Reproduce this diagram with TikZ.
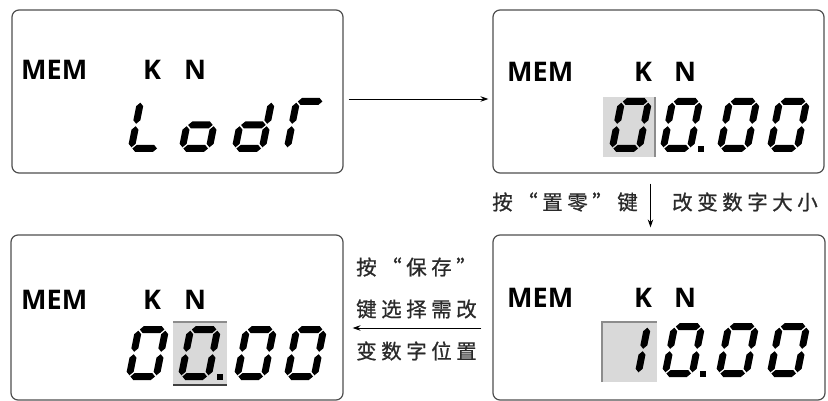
\documentclass[tikz,border=0pt]{standalone}
\usepackage{fontspec}
\setmainfont{Liberation Sans}
\newfontfamily\lcdfont{Open Sans}
\newfontfamily\cjk{Noto Sans CJK SC}[LetterSpace=22,FakeBold=0.8]
\usetikzlibrary{arrows.meta}
\definecolor{boxgray}{HTML}{4E4E4E}
\definecolor{shadegray}{HTML}{D9D9D9}
\definecolor{edgegray}{HTML}{8C8C8C}
\definecolor{cngray}{HTML}{2A2A2A}
\tikzset{
  lcdbox/.style={draw=boxgray, line width=1.2pt, rounded corners=7pt, minimum width=331pt, minimum height=163pt, inner sep=0pt},
  lbl/.style={font=\lcdfont\bfseries\fontsize{27}{27}\selectfont, inner sep=0pt},
  cn/.style={font=\cjk\fontsize{20.5}{21}\selectfont, inner sep=0pt, text=cngray},
  arr/.style={-{Stealth[length=8pt,width=5.5pt]}, line width=0.9pt, draw=black},
  segfill/.style={fill=black},
  lcdshade/.style={fill=shadegray},
}
\newcommand\lcdsega{\fill[segfill] (4.7,50.5)--(8.2,54)--(25.8,54)--(29.3,50.5)--(25.8,47)--(8.2,47)--cycle;}
\newcommand\lcdsegg{\fill[segfill] (4.7,27)--(8.2,30.5)--(25.8,30.5)--(29.3,27)--(25.8,23.5)--(8.2,23.5)--cycle;}
\newcommand\lcdsegd{\fill[segfill] (4.7,3.5)--(8.2,7)--(25.8,7)--(29.3,3.5)--(25.8,0)--(8.2,0)--cycle;}
\newcommand\lcdsegf{\fill[segfill] (3.5,28.2)--(7,31.7)--(7,45.8)--(3.5,49.3)--(0,45.8)--(0,31.7)--cycle;}
\newcommand\lcdsege{\fill[segfill] (3.5,4.7)--(7,8.2)--(7,22.3)--(3.5,25.8)--(0,22.3)--(0,8.2)--cycle;}
\newcommand\lcdsegb{\fill[segfill] (30.5,28.2)--(34,31.7)--(34,45.8)--(30.5,49.3)--(27,45.8)--(27,31.7)--cycle;}
\newcommand\lcdsegc{\fill[segfill] (30.5,4.7)--(34,8.2)--(34,22.3)--(30.5,25.8)--(27,22.3)--(27,8.2)--cycle;}
\newcommand\lcddigit[3]{\begin{scope}[shift={(#1,#2)},y=1pt,xslant=0.2]\foreach \s in {#3}{\csname lcdseg\s\endcsname}\end{scope}}
\newcommand\lcddot[2]{\fill[segfill] (#1,#2) rectangle ++(6,-6);}
\begin{document}
\begin{tikzpicture}[x=1pt,y=-1pt]
\useasboundingbox (0,0) rectangle (828,401);
% boxes
\node[lcdbox] (b1) at (177.5,91.5) {};
\node[lcdbox] (b2) at (658.5,91.5) {};
\node[lcdbox, minimum width=332pt, minimum height=165pt] (b3) at (177,317.5) {};
\node[lcdbox, minimum width=332pt, minimum height=165pt] (b4) at (659,317.5) {};
% labels inside boxes
\node[lbl, anchor=west] (m1) at (21,70) {MEM};
\node[lbl] (k1) at (152,70) {K};
\node[lbl] (n1) at (195,70) {N};
\node[lbl, anchor=west] (m2) at (507,71.5) {MEM};
\node[lbl] (k2) at (643,71.5) {K};
\node[lbl] (n2) at (685,71.5) {N};
\node[lbl, anchor=west] (m3) at (21,300) {MEM};
\node[lbl] (k3) at (152,300) {K};
\node[lbl] (n3) at (195,300) {N};
\node[lbl, anchor=west] (m4) at (507,298) {MEM};
\node[lbl] (k4) at (643,298) {K};
\node[lbl] (n4) at (685,298) {N};
% shaded cursor areas
\fill[lcdshade] (603,97) rectangle (654,157);
\draw[edgegray, line width=1.5pt] (655,97) -- (655,157);
\fill[lcdshade] (173,322) rectangle (227,385);
\draw[edgegray, line width=1.5pt] (173,322) -- (227,322);
\draw[black!75, line width=2pt] (173,385) -- (227,385);
\fill[lcdshade] (602,322) rectangle (657,382);
\draw[edgegray, line width=1.5pt] (602,382) -- (602,322) -- (657,322);
% box 1: LodR
\lcddigit{127}{152}{d,e,f}
\lcddigit{178}{152}{c,d,e,g}
\lcddigit{231}{152}{b,c,d,e,g}
\lcddigit{283}{152}{a,e,f}
% box 2: 00.00
\lcddigit{608}{152}{a,b,c,d,e,f}
\lcddigit{659}{152}{a,b,c,d,e,f}
\lcddot{698}{152}
\lcddigit{716}{152}{a,b,c,d,e,f}
\lcddigit{766}{152}{a,b,c,d,e,f}
% box 3: 00.00
\lcddigit{125}{380}{a,b,c,d,e,f}
\lcddigit{177}{380}{a,b,c,d,e,f}
\lcddot{217}{380}
\lcddigit{233}{380}{a,b,c,d,e,f}
\lcddigit{283}{380}{a,b,c,d,e,f}
% box 4: 10.00
\lcddigit{607}{377}{b,c}
\lcddigit{661}{377}{a,b,c,d,e,f}
\lcddot{700}{377}
\lcddigit{715}{377}{a,b,c,d,e,f}
\lcddigit{766}{377}{a,b,c,d,e,f}
% Chinese labels
\node[cn, anchor=east] (t1) at (638,202) {按“置零”键};
\node[cn, anchor=west] (t2) at (672,202) {改变数字大小};
\node[cn, anchor=west] (t3) at (356,267) {按“保存”};
\node[cn, anchor=west] (t4) at (356,309) {键选择需改};
\node[cn, anchor=west] (t5) at (356,351) {变数字位置};
% arrows
\draw[arr] ([shift={(5,7.5)}]b1.east) -- ([shift={(-4,7.5)}]b2.west);
\draw[arr] ([shift={(-8,10)}]b2.south) -- ([shift={(-8.5,-7)}]b4.north);
\draw[arr] ([shift={(-11,10.5)}]b4.west) -- ([shift={(9,10.5)}]b3.east);
\end{tikzpicture}
\end{document}
